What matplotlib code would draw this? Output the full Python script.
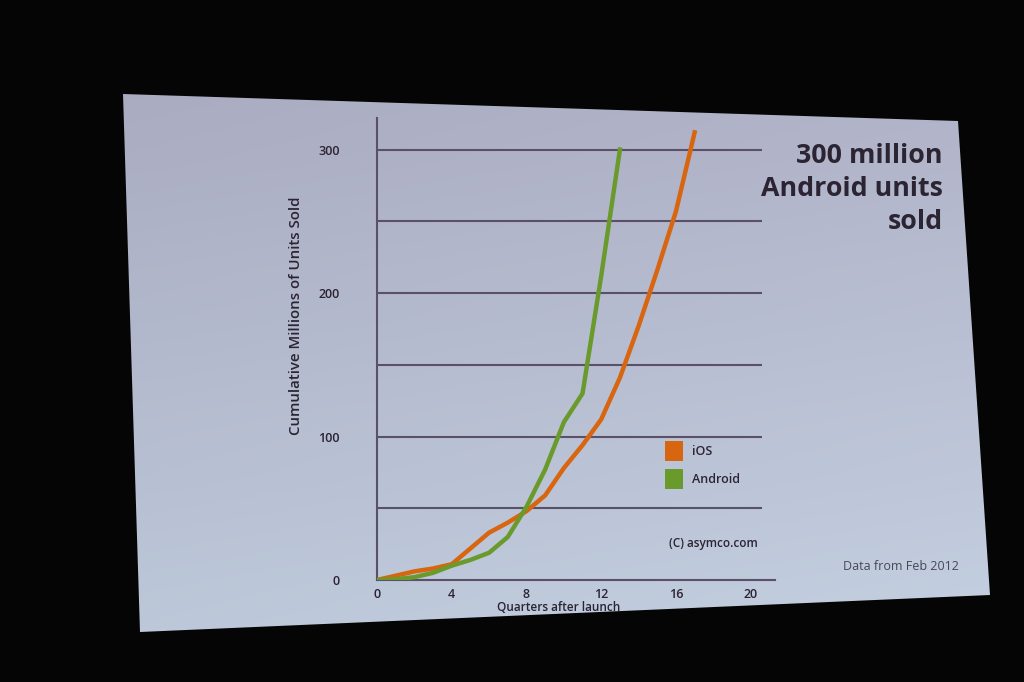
import numpy as np
import matplotlib
matplotlib.use("Agg")
import matplotlib.pyplot as plt
from matplotlib.patches import Polygon, Patch

plt.rcParams['font.family'] = ['Open Sans', 'DejaVu Sans']

# Cumulative millions of units sold, by quarter after launch
ios_quarters = [0, 1, 2, 3, 4, 5, 6, 7, 8, 9, 10, 11, 12, 13, 14, 15, 16, 17]
ios_units = [0, 3, 6, 8, 11, 22, 33, 40, 48, 59, 78, 94, 112, 141, 177, 216, 257, 312]

android_quarters = [0, 1, 2, 3, 4, 5, 6, 7, 8, 9, 10, 11, 12, 13]
android_units = [0, 0.5, 2, 5, 10, 14, 19, 30, 51, 77, 110, 130, 212, 300]

x_ticks = [0, 4, 8, 12, 16, 20]
y_ticks = [0, 100, 200, 300]
grid_levels = [50, 100, 150, 200, 250, 300]

ios_color = '#d8650f'
android_color = '#6b9a2c'
ink = '#2b2433'
grid_color = '#5a5068'

W, H = 1024, 682


def px(x, y):
    # pixel position in the photo -> figure fraction
    return x / W, 1 - y / H


fig = plt.figure(figsize=(10.24, 6.82), dpi=100, facecolor='#050505')

# projected slide (slightly skewed in the photo)
bg = fig.add_axes([0, 0, 1, 1])
bg.set_xlim(0, W)
bg.set_ylim(H, 0)
bg.axis('off')
yy, xx = np.mgrid[0:1:200j, 0:1:300j]
top = np.array([0.65, 0.65, 0.735])
bottom = np.array([0.74, 0.79, 0.855])
grad = top[None, None, :] * (1 - yy[..., None]) + bottom[None, None, :] * yy[..., None]
grad = grad + 0.035 * xx[..., None]
grad = np.clip(grad, 0, 1)
slide = Polygon([(123, 94), (958, 121), (990, 595), (140, 632)], closed=True,
                facecolor='none', edgecolor='none')
bg.add_patch(slide)
im = bg.imshow(grad, extent=[0, W, H, 0], aspect='auto', zorder=0)
im.set_clip_path(slide)

# chart
ax = fig.add_axes([377 / W, (H - 580) / H, 398 / W, 462 / H])
ax.set_facecolor('none')
ax.set_xlim(0, 21.3)
ax.set_ylim(0, 322)

ax.hlines(grid_levels, 0, 20.6, color=grid_color, linewidth=1.5, zorder=1)
ax.plot(ios_quarters, ios_units, color=ios_color, linewidth=3.2, zorder=3,
        solid_joinstyle='round')
ax.plot(android_quarters, android_units, color=android_color, linewidth=3.2, zorder=4,
        solid_joinstyle='round')

for side in ['top', 'right']:
    ax.spines[side].set_visible(False)
for side in ['left', 'bottom']:
    ax.spines[side].set_color(grid_color)
    ax.spines[side].set_linewidth(1.5)

ax.set_xticks(x_ticks)
ax.set_yticks(y_ticks)
ax.tick_params(axis='y', length=0, pad=27, labelsize=9, labelcolor=ink)
ax.tick_params(axis='x', length=0, pad=6, labelsize=9, labelcolor=ink)
for lab in ax.get_xticklabels() + ax.get_yticklabels():
    lab.set_fontweight('semibold')

ax.set_xlabel('Quarters after launch', fontsize=8.5, fontweight='semibold', color=ink)
ax.xaxis.set_label_coords(0.457, -0.045)
ax.set_ylabel('Cumulative Millions of Units Sold', fontsize=10.8, fontweight='semibold',
              color=ink)
ax.yaxis.set_label_coords(-0.186, 0.571)

handles = [Patch(facecolor=ios_color, edgecolor='none', label='iOS'),
           Patch(facecolor=android_color, edgecolor='none', label='Android')]
fig.legend(handles=handles, loc='upper left', bbox_to_anchor=px(665, 441),
           frameon=False, handlelength=1.45, handleheight=2.1,
           labelspacing=0.6, handletextpad=0.7, borderaxespad=0, borderpad=0,
           labelcolor=ink, prop={'weight': 'semibold', 'size': 9})

fig.text(*px(713, 543), '(C) asymco.com', fontsize=8.5, fontweight='semibold', color=ink,
         ha='center', va='center')

fig.text(*px(943, 143), '300 million\nAndroid units\nsold', fontsize=19.3,
         fontweight='bold', color=ink, ha='right', va='top', linespacing=1.34)

fig.text(*px(901, 567), 'Data from Feb 2012', fontsize=9, color='#474757',
         ha='center', va='center')

fig.savefig('out.png', dpi=100, facecolor=fig.get_facecolor())
